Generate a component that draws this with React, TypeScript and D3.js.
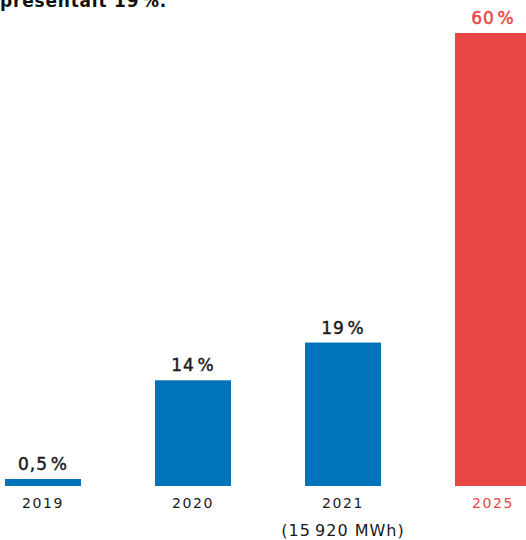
import React from "react";
import * as d3 from "d3";

const categories = ["2019", "2020", "2021", "2025"];
const values = [0.5, 14, 19, 60];
const valueLabels = ["0,5\u200a%", "14\u200a%", "19\u200a%", "60\u200a%"];
const subLabels = ["", "", "(15\u2009920 MWh)", ""];
const highlight = [false, false, false, true];

const W = 526;
const H = 540;
const BLUE = "#0173bb";
const RED = "#e84545";
const FONT = "'DejaVu Sans', sans-serif";

export default function App() {
  const x = d3.scaleBand<string>().domain(categories).range([-32, 568]).paddingInner(0.4933).paddingOuter(0.2467);
  const y = d3.scaleLinear().domain([0, 60]).range([486, 33]);
  const bw = x.bandwidth();
  return (
    <svg width={W} height={H} style={{ position: "absolute", left: 0, top: 0, background: "#fff" }}>
      <text x={0} y={7} fontFamily={FONT} fontWeight="bold" fontSize={17} letterSpacing={0.8} fill="#111">
        présentait 19{"\u200a"}%.
      </text>
      {categories.map((c, i) => {
        const x0 = x(c)!;
        const top = Math.min(y(values[i]), y(0) - 7);
        const cx = x0 + bw / 2;
        const col = highlight[i] ? RED : BLUE;
        const tcol = highlight[i] ? RED : "#1a1a1a";
        return (
          <g key={c}>
            <rect x={x0} y={top} width={bw} height={y(0) - top} fill={col} />
            <text x={cx} y={top - 9} textAnchor="middle" fontFamily={FONT} fontSize={17} letterSpacing={1} fill={tcol} stroke={tcol} strokeWidth={0.45}>
              {valueLabels[i]}
            </text>
            <text x={cx} y={508} textAnchor="middle" fontFamily={FONT} fontSize={14} letterSpacing={1.6} fill={tcol}>
              {c}
            </text>
            {subLabels[i] && (
              <text x={cx} y={536} textAnchor="middle" fontFamily={FONT} fontSize={16} letterSpacing={1} fill={tcol}>
                {subLabels[i]}
              </text>
            )}
          </g>
        );
      })}
    </svg>
  );
}
